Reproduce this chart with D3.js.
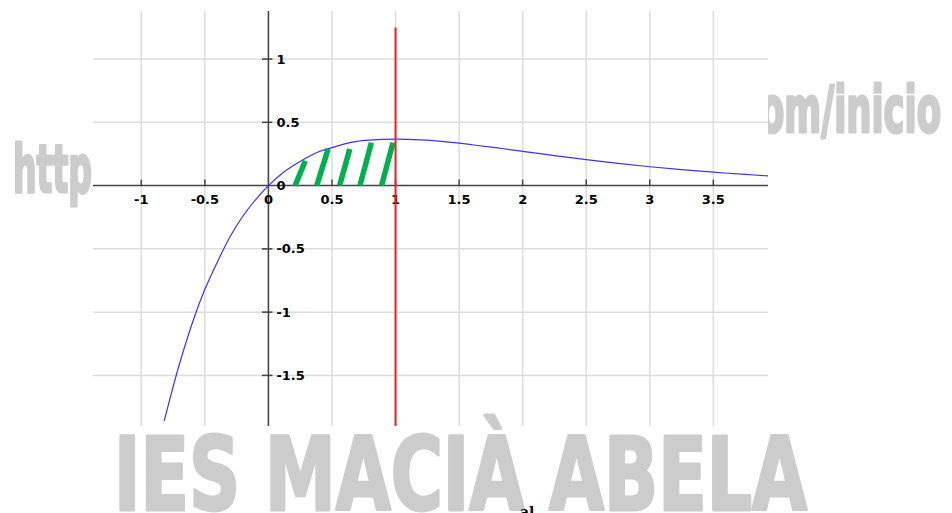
<!DOCTYPE html>
<html>
<head>
<meta charset="utf-8">
<script src="https://cdn.jsdelivr.net/npm/d3@7"></script>
<style>
  body { margin: 0; background: #fff; }
  svg { display: block; }
</style>
</head>
<body>
<svg id="chart"></svg>
<script>
// curve points
const curveX = [-0.82, -0.75, -0.7, -0.6, -0.5, -0.4, -0.3, -0.2, -0.1, 0, 0.1, 0.2, 0.3, 0.4, 0.5, 0.6, 0.7, 0.8, 0.9, 1.0,
    1.2, 1.4, 1.6, 1.8, 2.0, 2.25, 2.5, 2.75, 3.0, 3.25, 3.5, 3.75, 3.93];
const curveY = [-1.86, -1.59, -1.41, -1.09, -0.82, -0.60, -0.40, -0.24, -0.11, 0, 0.09, 0.16, 0.22, 0.27, 0.30, 0.33, 0.35, 0.36, 0.366, 0.368,
    0.361, 0.345, 0.323, 0.298, 0.271, 0.237, 0.205, 0.176, 0.149, 0.126, 0.106, 0.088, 0.077];

// hatch strokes under the curve: bottom x, top x, top y
const hatchX0 = [0.21, 0.38, 0.56, 0.72, 0.89];
const hatchX1 = [0.29, 0.47, 0.64, 0.81, 0.98];
const hatchY1 = [0.196, 0.29, 0.29, 0.34, 0.34];

const xTicks = [-1, -0.5, 0, 0.5, 1, 1.5, 2, 2.5, 3, 3.5];
const yTicks = [-1.5, -1, -0.5, 0, 0.5, 1];
const markerX = 1;
const markerTop = 1.25;

const width = 952, height = 513;
const plot = { left: 93, right: 768, top: 11, bottom: 426 };

const svg = d3.select("#chart").attr("width", width).attr("height", height);

const x = d3.scaleLinear().domain([-1.38, 3.93]).range([plot.left, plot.right]);
const y = d3.scaleLinear().domain([-1.9, 1.38]).range([plot.bottom, plot.top]);

const markFont = "DejaVu Sans Condensed, DejaVu Sans";
const markColor = "#cccccc";

function watermark(g, px, py, size, len, txt) {
    return g.append("text")
        .attr("x", px).attr("y", py)
        .attr("font-family", markFont)
        .attr("font-weight", "bold")
        .attr("font-size", size)
        .attr("fill", markColor)
        .attr("stroke", markColor)
        .attr("stroke-width", 3)
        .attr("stroke-linejoin", "round")
        .attr("textLength", len)
        .attr("lengthAdjust", "spacingAndGlyphs")
        .text(txt);
}

// watermark pieces behind the plot
watermark(svg, 13, 192, 66, 79, "http");
watermark(svg, 760, 132, 64, 181, "om/inicio");

svg.append("rect")
    .attr("x", plot.left).attr("y", plot.top)
    .attr("width", plot.right - plot.left).attr("height", plot.bottom - plot.top)
    .attr("fill", "#fff");

svg.append("clipPath").attr("id", "clip")
    .append("rect")
    .attr("x", plot.left).attr("y", plot.top)
    .attr("width", plot.right - plot.left).attr("height", plot.bottom - plot.top);

// grid
const grid = svg.append("g").attr("stroke", "#dcdcdc").attr("stroke-width", 1.5);
grid.selectAll(".gx").data(xTicks).join("line")
    .attr("x1", d => x(d)).attr("x2", d => x(d))
    .attr("y1", plot.top).attr("y2", plot.bottom);
grid.selectAll(".gy").data(yTicks.filter(d => d !== 0)).join("line")
    .attr("x1", plot.left).attr("x2", plot.right)
    .attr("y1", d => y(d)).attr("y2", d => y(d));

// axes
const axisColor = "#444";
svg.append("line")
    .attr("x1", plot.left).attr("x2", plot.right)
    .attr("y1", y(0)).attr("y2", y(0))
    .attr("stroke", axisColor).attr("stroke-width", 1.5);
svg.append("line")
    .attr("x1", x(0)).attr("x2", x(0))
    .attr("y1", plot.top).attr("y2", plot.bottom)
    .attr("stroke", axisColor).attr("stroke-width", 1.5);

svg.append("g").selectAll("line").data(xTicks.filter(d => d !== 0)).join("line")
    .attr("x1", d => x(d)).attr("x2", d => x(d))
    .attr("y1", y(0) - 6).attr("y2", y(0))
    .attr("stroke", axisColor).attr("stroke-width", 1.5);
svg.append("g").selectAll("line").data(yTicks.filter(d => d !== 0)).join("line")
    .attr("x1", x(0) - 6.5).attr("x2", x(0) + 4)
    .attr("y1", d => y(d)).attr("y2", d => y(d))
    .attr("stroke", axisColor).attr("stroke-width", 1.5);

const labelFont = "DejaVu Sans";
svg.append("g").selectAll("text").data(xTicks).join("text")
    .attr("x", d => x(d)).attr("y", y(0) + 18)
    .attr("text-anchor", "middle")
    .attr("font-family", labelFont).attr("font-weight", "bold").attr("font-size", 13)
    .attr("fill", "#000")
    .text(d => d);
svg.append("g").selectAll("text").data(yTicks).join("text")
    .attr("x", x(0) + 8).attr("y", d => y(d) + 4.5)
    .attr("font-family", labelFont).attr("font-weight", "bold").attr("font-size", 13)
    .attr("fill", "#000")
    .text(d => d);

// function curve
const points = curveX.map((v, i) => ({ x: v, y: curveY[i] }));
const line = d3.line()
    .x(d => x(d.x))
    .y(d => y(d.y))
    .curve(d3.curveCatmullRom);

svg.append("path")
    .datum(points)
    .attr("clip-path", "url(#clip)")
    .attr("fill", "none")
    .attr("stroke", "#4a2cf0")
    .attr("stroke-width", 1.2)
    .attr("d", line);

// green hatching
svg.append("g").selectAll("line").data(hatchX0).join("line")
    .attr("x1", d => x(d)).attr("y1", y(0))
    .attr("x2", (d, i) => x(hatchX1[i])).attr("y2", (d, i) => y(hatchY1[i]))
    .attr("stroke", "#00b04f").attr("stroke-width", 5.5);

// vertical marker at x = 1
svg.append("line")
    .attr("x1", x(markerX)).attr("x2", x(markerX))
    .attr("y1", y(markerTop)).attr("y2", plot.bottom)
    .attr("stroke", "#ff1a1a").attr("stroke-width", 2);

// big watermark in front
watermark(svg, 114, 510, 102, 693, "IES MACIÀ ABELA");

svg.append("text")
    .attr("x", 520).attr("y", 517)
    .attr("font-family", "DejaVu Serif")
    .attr("font-weight", "bold")
    .attr("font-size", 14)
    .attr("fill", "#000")
    .text("al");
</script>
</body>
</html>
